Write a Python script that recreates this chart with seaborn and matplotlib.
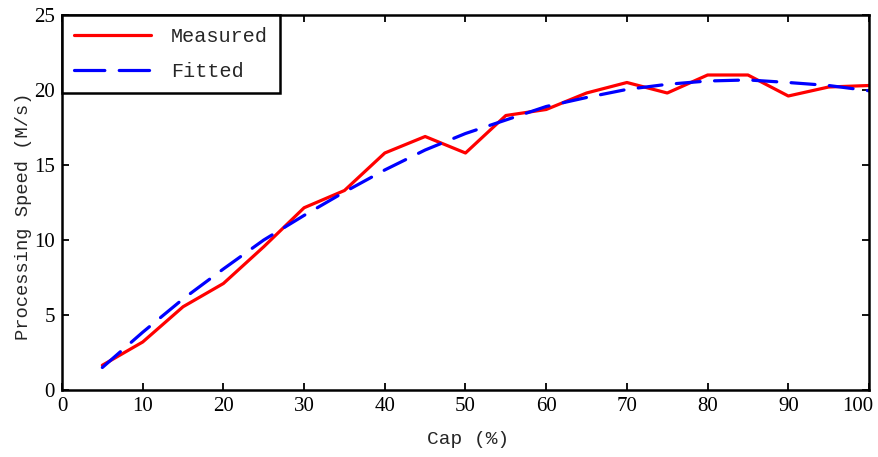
import matplotlib
matplotlib.use("Agg")
import matplotlib.pyplot as plt
import matplotlib.transforms as mtransforms
import seaborn as sns
import pandas as pd

# ---- data ----
cap = [5, 10, 15, 20, 25, 30, 35, 40, 45, 50, 55, 60, 65, 70, 75, 80, 85, 90, 95, 100]
measured = [1.65, 3.2, 5.55, 7.1, 9.55, 12.15, 13.3, 15.8, 16.9, 15.8,
            18.3, 18.7, 19.8, 20.5, 19.8, 21.0, 21.0, 19.6, 20.2, 20.3]
fitted = [1.5, 3.85, 6.07, 8.07, 10.0, 11.64, 13.2, 14.67, 16.0, 17.1,
          18.0, 18.9, 19.5, 20.04, 20.38, 20.6, 20.67, 20.5, 20.3, 19.95]
series_names = ["Measured", "Fitted"]
x_ticks = [0, 10, 20, 30, 40, 50, 60, 70, 80, 90, 100]
y_ticks = [0, 5, 10, 15, 20, 25]
x_label = "Cap (%)"
y_label = "Processing Speed (M/s)"

sns.set_style("ticks")
plt.rcParams["font.family"] = ["Liberation Serif", "DejaVu Sans"]

df = pd.DataFrame({"cap": cap * 2,
                   "speed": measured + fitted,
                   "series": [series_names[0]] * len(cap) + [series_names[1]] * len(cap)})

fig = plt.figure(figsize=(8.79, 4.57), dpi=100)
ax = fig.add_axes([62 / 879, 67 / 457, (869 - 62) / 879, (390 - 15) / 457])

lw = 2.3
sns.lineplot(data=df[df.series == series_names[0]], x="cap", y="speed", ax=ax,
             color="#ff0000", linewidth=lw, label=series_names[0])
sns.lineplot(data=df[df.series == series_names[1]], x="cap", y="speed", ax=ax,
             color="#0000ff", linewidth=lw, label=series_names[1])
ax.lines[1].set_dashes([7.5, 4.5])
ax.lines[1].set_dash_capstyle("round")

ax.set_xlim(0, 100)
ax.set_ylim(0, 25)
ax.set_xticks(x_ticks)
ax.set_yticks(y_ticks)
ax.tick_params(direction="in", length=5, width=1.3, top=True, right=True,
               labelsize=15, pad=5, colors="black")
for s in ax.spines.values():
    s.set_linewidth(1.8)
    s.set_color("black")
    s.set_visible(True)

# keep the last x tick label inside the figure, as in the reference
last = ax.get_xticklabels()[-1]
last.set_transform(last.get_transform() +
                   mtransforms.ScaledTranslation(-11 / 100, 0, fig.dpi_scale_trans))

mono = ["Liberation Mono", "DejaVu Sans Mono"]
ax.set_xlabel(x_label, fontsize=14, family=mono)
ax.set_ylabel(y_label, fontsize=13.5, family=mono)
ax.xaxis.set_label_coords((468 - 62) / 807, (390 - 431) / 375)
ax.yaxis.set_label_coords((32 - 62) / 807, (390 - 216) / 375)

leg = ax.legend(loc="upper left", borderaxespad=0, fancybox=False,
                edgecolor="black", framealpha=1, handlelength=3.8,
                handletextpad=1.0, borderpad=0.6, labelspacing=0.8,
                prop={"family": mono, "size": 14.5})
leg.get_frame().set_linewidth(1.8)
for h in leg.get_lines():
    h.set_linewidth(lw)
leg.get_lines()[1].set_dashes([9.5, 4.5])

fig.savefig("out.png", dpi=100)
